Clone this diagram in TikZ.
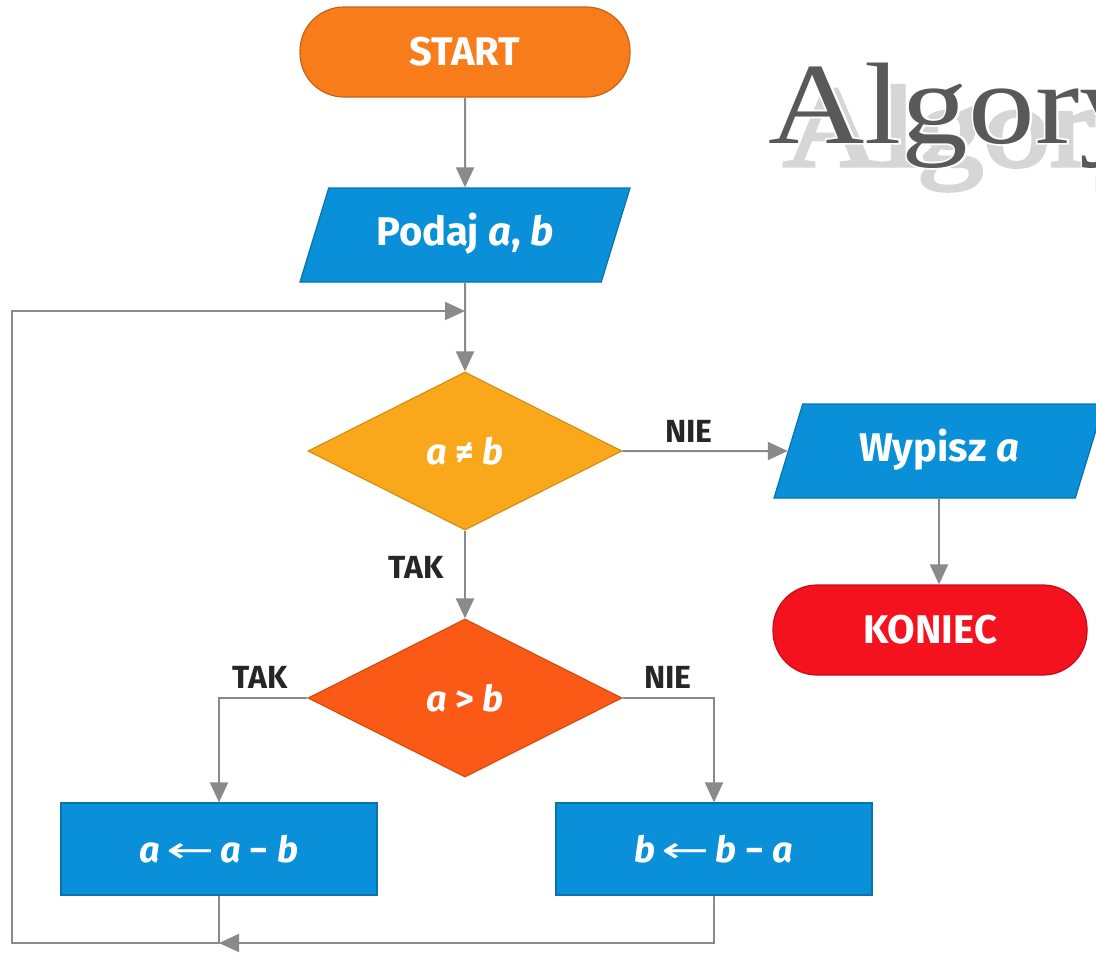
\documentclass[tikz,border=0pt]{standalone}
\usepackage{fontspec}
\setmainfont{Fira Sans}
\newfontfamily\titlefont{Liberation Serif}
\newfontfamily\titlefat[FakeBold=3]{Liberation Serif}
\newfontfamily\arrowfont{DejaVu Sans}
\usetikzlibrary{shapes.geometric,arrows.meta}
\definecolor{startorange}{HTML}{F97C1B}
\definecolor{flowblue}{HTML}{0A90D8}
\definecolor{amber}{HTML}{F9A81B}
\definecolor{redorange}{HTML}{FA5A15}
\definecolor{endred}{HTML}{F4121F}
\definecolor{linegray}{HTML}{8A8A8A}
\newcommand{\titletext}{\scalebox{1.15}[1]{Algory}}
\newcommand{\assign}{\,{\arrowfont\mdseries\scalebox{1.6}[1]{←}}\,}
\tikzset{
	shape text/.style={text=white, inner sep=0pt, line width=0.6pt, font=\bfseries\fontsize{20}{22}\selectfont},
	term/.style={shape text, rectangle, rounded corners=22pt, minimum width=165pt, minimum height=45pt},
	io/.style={shape text, trapezium, trapezium left angle=73, trapezium right angle=107, trapezium stretches body,
		text height=14pt, text depth=4pt, inner ysep=14.5pt, minimum width=165pt, fill=flowblue, draw=flowblue!80!black},
	decision/.style={shape text, diamond, aspect=2, minimum width=157pt, minimum height=79pt, font=\bfseries\fontsize{18}{20}\selectfont},
	process/.style={shape text, rectangle, minimum width=158pt, minimum height=46pt, fill=flowblue, draw=flowblue!80!black,
		font=\bfseries\fontsize{18}{20}\selectfont},
	lbl/.style={text=black!85, inner sep=0pt, font=\bfseries\fontsize{16}{18}\selectfont},
	titlestyle/.style={inner sep=0pt, anchor=base west},
	arr/.style={linegray, line width=1pt, -{Triangle[length=10pt, width=9pt]}},
}
\begin{document}
\begin{tikzpicture}[x=0.5pt, y=-0.5pt]
	\useasboundingbox[fill=white] (0,0) rectangle (1096,953);

	\node[titlestyle, text=black!16, font=\titlefat\fontsize{58}{64}\selectfont] (titleshadow) at (783,166) {\titletext};
	\node[titlestyle, text=white, font=\titlefat\fontsize{58}{64}\selectfont] (titlehalo) at (768,143) {\titletext};
	\node[titlestyle, text=black!65, font=\titlefont\fontsize{58}{64}\selectfont] (title) at (768,143) {\titletext};

	\node[term, fill=startorange, draw=startorange!80!black] (start) at (465,52) {START};
	\node[io] (podaj) at (465,235) {Podaj \textit{a}, \textit{b}};
	\node[decision, fill=amber, draw=amber!85!black] (cond1) at (465,451) {\textit{a} ≠ \textit{b}};
	\node[io] (wypisz) at (939,451) {Wypisz \textit{a}};
	\node[term, fill=endred, draw=endred!80!black, minimum width=157pt] (koniec) at (930,630) {KONIEC};
	\node[decision, fill=redorange, draw=redorange!85!black] (cond2) at (465,698) {\textit{a} > \textit{b}};
	\node[process] (lbox) at (219,849) {\textit{a}\assign\textit{a} − \textit{b}};
	\node[process] (rbox) at (714,849) {\textit{b}\assign\textit{b} − \textit{a}};

	\node[lbl] (nie1) at (689,431) {NIE};
	\node[lbl] (tak1) at (416,567) {TAK};
	\node[lbl] (tak2) at (260,677) {TAK};
	\node[lbl] (nie2) at (668,677) {NIE};

	\coordinate (join) at (465,311);
	\coordinate (merge) at (219,943);
	\coordinate (corner) at (12,943);

	\draw[arr] (start) -- (podaj);
	\draw[arr] (podaj) -- (cond1);
	\draw[arr] (cond1) -- (wypisz);
	\draw[arr] (wypisz.south) -- (wypisz.south |- koniec.north);
	\draw[arr] (cond1) -- (cond2);
	\draw[arr] (cond2.west) -| (lbox);
	\draw[arr] (cond2.east) -| (rbox);
	\draw[arr] (rbox) |- (merge);
	\draw[arr] (lbox) -- (merge) -- (corner) |- (join);
\end{tikzpicture}
\end{document}
